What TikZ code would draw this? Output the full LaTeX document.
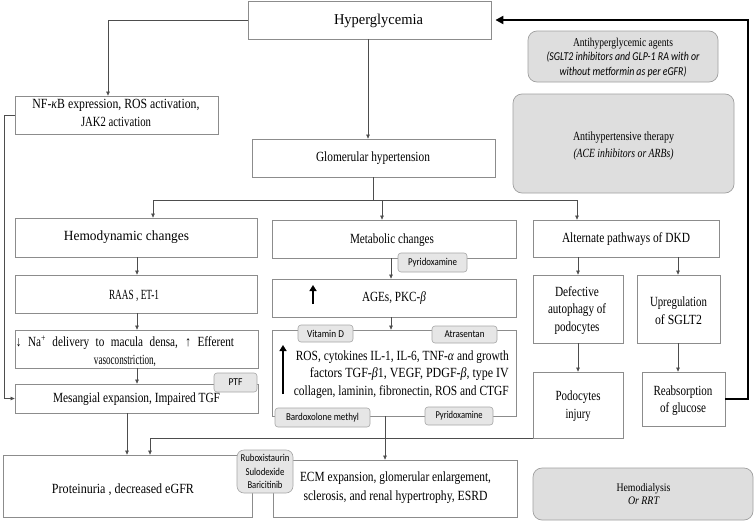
\documentclass[tikz,border=0pt]{standalone}
\usepackage{fontspec}
\setmainfont{Liberation Serif}
\newfontfamily\calfont{Carlito}
\usetikzlibrary{arrows.meta,fit}
\newcommand\w[2]{\resizebox{#1pt}{\height}{#2}}
\newcommand\jw[3]{\scalebox{#1}[1]{\makebox[#2pt][s]{#3}}}
\definecolor{boxc}{HTML}{8C8C8C}
\definecolor{linec}{HTML}{4D4D4D}
\definecolor{pillb}{HTML}{A6A6A6}
\definecolor{pillf}{HTML}{E6E6E6}
\definecolor{gb}{HTML}{A0A0A0}
\definecolor{gf}{HTML}{DEDEDE}
\begin{document}
\begin{tikzpicture}[x=1pt,y=-1pt,
  box/.style={draw=boxc, line width=0.8pt, inner sep=0pt, fill=white},
  pill/.style={draw=pillb, fill=pillf, rounded corners=3pt, line width=0.6pt, inner sep=0pt},
  gbox/.style={draw=gb, fill=gf, rounded corners=9pt, line width=0.7pt, inner sep=0pt},
  txt/.style={inner sep=0pt, align=center, font=\fontsize{14}{18}\selectfont},
  ptxt/.style={inner sep=0pt, align=center, font=\calfont\fontsize{10.5}{13.5}\selectfont},
  arr/.style={draw=linec, line width=0.7pt, -{Triangle[length=4pt,width=3.6pt]}},
  ln/.style={draw=linec, line width=0.7pt},
  thk/.style={draw=black, line width=2.8pt, line join=miter, -{Triangle[length=8pt,width=8pt]}},
  uparr/.style={draw=black, line width=2.2pt, -{Triangle[length=6pt,width=7pt]}}
]
\useasboundingbox (0,0) rectangle (755,522);

% ---------- boxes ----------
\node[box, fit={(248,1) (491,39)}] (hyp) {};
\node[box, fit={(15,96) (218,134)}] (nfkb) {};
\node[box, fit={(252,139) (495,177)}] (glom) {};
\node[box, fit={(15,218) (257,257)}] (hemo) {};
\node[box, fit={(272,220) (516,258)}] (meta) {};
\node[box, fit={(533,220) (719,257)}] (alt) {};
\node[box, fit={(15,275) (257,313)}] (raas) {};
\node[box, fit={(272,279) (516,317)}] (ages) {};
\node[box, fit={(15,330) (258,368)}] (na) {};
\node[box, fit={(15,384) (258,413)}] (mes) {};
\node[box, fit={(272,330) (516,416)}] (ros) {};
\node[box, fit={(533,275) (623,343)}] (defect) {};
\node[box, fit={(637,275) (720,343)}] (upreg) {};
\node[box, fit={(533,372) (623,438)}] (podo) {};
\node[box, fit={(642,372) (725,426)}] (reabs) {};
\node[box, fit={(3,455) (252,517)}] (prot) {};
\node[box, fit={(273,460) (517,517)}] (ecm) {};

\node[gbox, fit={(528,31) (718,82)}] (ahg) {};
\node[gbox, fit={(513,94) (734,193)}] (aht) {};
\node[gbox, fit={(533,468) (753,520)}] (hd) {};

% ---------- coordinates for connector columns ----------
\coordinate (xa) at (108,0);
\coordinate (xb) at (4,0);
\coordinate (xc) at (368,0);
\coordinate (xg) at (373,0);
\coordinate (ys) at (0,200);
\coordinate (xh) at (153,0);
\coordinate (xm) at (382,0);
\coordinate (xl) at (577,0);
\coordinate (xr) at (137,0);
\coordinate (xq) at (391,0);
\coordinate (xe) at (385,0);
\coordinate (xp) at (127,0);
\coordinate (xp2) at (150,0);
\coordinate (xd) at (578,0);
\coordinate (xu) at (678,0);
\coordinate (xt) at (748,0);

% ---------- connectors ----------
\draw[arr] (hyp.west) -| (xa |- nfkb.north);
\draw[arr] (nfkb.west) -- (xb |- nfkb.west) -- (xb |- mes.west) -- (mes.west);
\draw[arr] (xc |- hyp.south) -- (xc |- glom.north);
\draw[ln] (xg |- glom.south) -- (xg |- ys);
\draw[ln] (xh |- ys) -- (xl |- ys);
\draw[arr] (xh |- ys) -- (xh |- hemo.north);
\draw[arr] (xm |- ys) -- (xm |- meta.north);
\draw[arr] (xl |- ys) -- (xl |- alt.north);
\draw[arr] (xr |- hemo.south) -- (xr |- raas.north);
\draw[arr] (xr |- raas.south) -- (xr |- na.north);
\draw[arr] (xr |- na.south) -- (xr |- mes.north);
\draw[arr] (xq |- meta.south) -- (xq |- ages.north);
\draw[arr] (xq |- ages.south) -- (xq |- ros.north);
\draw[arr] (xe |- ros.south) -- (xe |- ecm.north);
\draw[arr] (xp |- mes.south) -- (xp |- prot.north);
\draw[arr] (podo.south west) -- (xp2 |- podo.south) -- (xp2 |- prot.north);
\draw[arr] (xd |- alt.south) -- (xd |- defect.north);
\draw[arr] (xu |- alt.south) -- (xu |- upreg.north);
\draw[arr] (xd |- defect.south) -- (xd |- podo.north);
\draw[arr] (xu |- upreg.south) -- (xu |- reabs.north);
\draw[thk, shorten >=4pt] (reabs.east) -- (xt |- reabs.east) -- (xt |- hyp.east) -- (hyp.east);

% ---------- pills (drawn on top) ----------
\node[pill, fit={(398,253) (467,272)}] (pyr1) {};
\node[pill, fit={(298,325) (353,342)}] (vitd) {};
\node[pill, fit={(432,326) (497,343)}] (atra) {};
\node[pill, fit={(275,408) (370,427)}] (bard) {};
\node[pill, fit={(425,407) (493,425)}] (pyr2) {};
\node[pill, fit={(214,373) (257,392)}] (ptf) {};
\node[pill, rounded corners=7pt, fit={(237,450) (293,493)}] (rubo) {};

\node[ptxt] (tpyr1) at (pyr1.center) {\w{49}{Pyridoxamine}};
\node[ptxt] (tvitd) at (vitd.center) {\w{37}{Vitamin D}};
\node[ptxt] (tatra) at (atra.center) {\w{40}{Atrasentan}};
\node[ptxt] (tbard) at (bard.center) {\w{73}{Bardoxolone methyl}};
\node[ptxt] (tpyr2) at (pyr2.center) {\w{47}{Pyridoxamine}};
\node[ptxt] (tptf) at (ptf.center) {\w{14}{PTF}};
\node[ptxt] (trubo) at (265,471.5) {\w{49}{Ruboxistaurin}\\\w{39}{Sulodexide}\\\w{35}{Baricitinib}};

% ---------- texts ----------
\node[txt, font=\fontsize{15}{18}\selectfont] (thyp) at (378.5,21) {\w{89}{Hyperglycemia}};
\node[txt] (tnfkb) at (116,113) {\w{167}{NF-\textit{κ}B expression, ROS activation,}\\\w{70}{JAK2 activation}};
\node[txt] (tglom) at (373,158) {\w{114}{Glomerular hypertension}};
\node[txt] (themo) at (126.5,237.5) {\w{125}{Hemodynamic changes}};
\node[txt] (tmeta) at (392,240) {\w{84}{Metabolic changes}};
\node[txt] (talt) at (626,239.5) {\w{128}{Alternate pathways of DKD}};
\node[txt] (traas) at (134,296) {\w{50}{RAAS , ET-1}};
\node[txt] (tages) at (394,298) {\w{64}{AGEs, PKC-\textit{β}}};
\node[txt] (tna) at (125,351) {\jw{0.8}{272.5}{↓ Na\textsuperscript{+} delivery to macula densa, ↑ Efferent}\\\w{62}{vasoconstriction,}};
\node[txt] (tmes) at (136.5,399) {\w{167}{Mesangial expansion, Impaired TGF}};
\node[txt, align=right, anchor=east, font=\fontsize{14}{17.5}\selectfont] (tros) at (509,374.5)
  {\w{213}{ROS, cytokines IL-1, IL-6, TNF-\textit{α} and growth}\\
   \w{199}{factors TGF-\textit{β}1, VEGF, PDGF-\textit{β}, type IV}\\
   \w{215}{collagen, laminin, fibronectin, ROS and CTGF}};
\node[txt, font=\fontsize{14}{17.5}\selectfont] (tdefect) at (577,310.5) {\w{44}{Defective}\\\w{58}{autophagy of}\\\w{45}{podocytes}};
\node[txt, font=\fontsize{14}{17.5}\selectfont] (tupreg) at (678.5,310.5) {\w{57}{Upregulation}\\\w{47}{of SGLT2}};
\node[txt, font=\fontsize{14}{17.5}\selectfont] (tpodo) at (578,406) {\w{45}{Podocytes}\\\w{25}{injury}};
\node[txt, font=\fontsize{14}{17.5}\selectfont] (treabs) at (683,400.5) {\w{59}{Reabsorption}\\\w{46}{of glucose}};
\node[txt] (tprot) at (123,490) {\w{142}{Proteinuria , decreased eGFR}};
\node[txt, font=\fontsize{14}{19}\selectfont] (tecm) at (395.5,487.5) {\w{191}{ECM expansion, glomerular enlargement,}\\\w{184}{sclerosis, and renal hypertrophy, ESRD}};
\node[txt, font=\fontsize{11.5}{12.5}\selectfont] (thd) at (643.5,494) {\w{54}{Hemodialysis}\\\w{31}{\itshape Or RRT}};
\node[txt, font=\fontsize{12}{14.5}\selectfont] (tahg) at (623,57.5) {\w{100}{Antihyperglycemic agents}\\\w{153}{\calfont\itshape (SGLT2 inhibitors and GLP-1 RA with or}\\\w{127}{\calfont\itshape without metformin as per eGFR)}};
\node[txt, font=\fontsize{12.5}{17}\selectfont] (taht) at (623.5,145.5) {\w{101}{Antihypertensive therapy}\\\w{100}{\itshape (ACE inhibitors or ARBs)}};

% ---------- up arrows ----------
\draw[uparr] (313,304) -- (313,285);
\draw[uparr] (283,394) -- (283,345);
\end{tikzpicture}
\end{document}
